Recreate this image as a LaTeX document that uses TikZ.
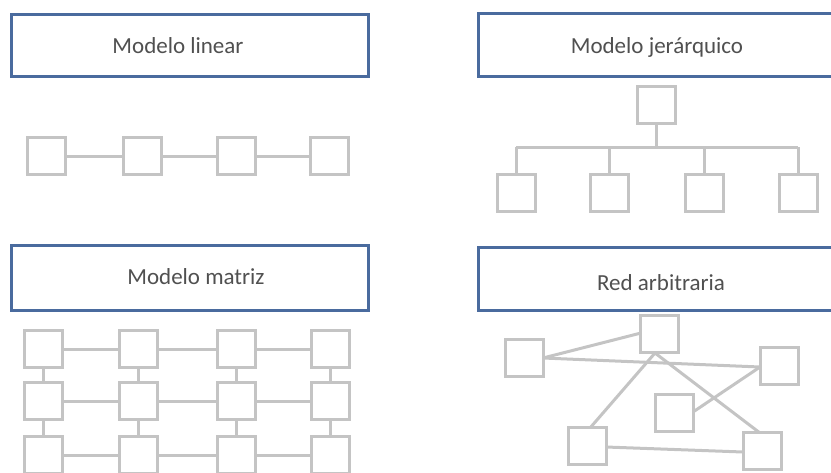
\documentclass[tikz,border=0pt]{standalone}
\usepackage{fontspec}
\setmainfont{Carlito}
\begin{document}
\begin{tikzpicture}[x=1pt,y=-1pt,
  titlebox/.style={draw=boxblue, line width=3pt, fill=white, inner sep=0pt, anchor=north west},
  titletext/.style={text=textgray, font=\fontsize{23}{26}\selectfont, inner sep=0pt, anchor=base},
  sq/.style={draw=sqgray, line width=3pt, fill=white, minimum width=38pt, minimum height=37pt, inner sep=0pt},
  link/.style={draw=sqgray, line width=3pt}]
\definecolor{boxblue}{HTML}{4A6B9E}
\definecolor{sqgray}{HTML}{C4C4C4}
\definecolor{textgray}{HTML}{505050}
\useasboundingbox (0,0) rectangle (831,472);
\clip (0,0) rectangle (831,472);

% ---- title boxes ----
\node[titlebox, minimum width=357pt, minimum height=62pt] (t1) at (10,13) {};
\node[titletext] (l1) at (178,53) {Modelo linear};
\node[titlebox, minimum width=360pt, minimum height=63pt] (t2) at (477,12) {};
\node[titletext] (l2) at (657,53) {Modelo jerárquico};
\node[titlebox, minimum width=357pt, minimum height=65pt] (t3) at (10,244) {};
\node[titletext] (l3) at (196,284) {Modelo matriz};
\node[titlebox, minimum width=360pt, minimum height=63pt] (t4) at (477,246) {};
\node[titletext] (l4) at (661,290) {Red arbitraria};

% ---- linear model ----
\node[sq] (a1) at (46,156) {};
\node[sq] (a2) at (142,156) {};
\node[sq] (a3) at (236,156) {};
\node[sq] (a4) at (329,156) {};
\draw[link] (a1) -- (a2);
\draw[link] (a2) -- (a3);
\draw[link] (a3) -- (a4);

% ---- hierarchical model ----
\node[sq] (h0) at (656,105) {};
\node[sq] (h1) at (516,193) {};
\node[sq] (h2) at (609,193) {};
\node[sq] (h3) at (704,193) {};
\node[sq] (h4) at (798,193) {};
\coordinate (hj) at (656,147);
\coordinate (hl) at (516,147);
\coordinate (hr) at (798,147);
\draw[link] (h0) -- (hj);
\draw[link] (hl) -- (hr);
\draw[link] (hl) -- (h1);
\draw[link] (h2.north |- hj) -- (h2);
\draw[link] (h3.north |- hj) -- (h3);
\draw[link] (hr) -- (h4);

% ---- matrix model ----
\foreach \c/\x in {1/43,2/138,3/236,4/330}{
  \foreach \r/\y in {1/349,2/401,3/455}{
    \node[sq] (m\r\c) at (\x,\y) {};
  }
}
\foreach \r in {1,2,3}{
  \draw[link] (m\r1) -- (m\r2);
  \draw[link] (m\r2) -- (m\r3);
  \draw[link] (m\r3) -- (m\r4);
}
\foreach \c in {1,2,3,4}{
  \draw[link] (m1\c) -- (m2\c);
  \draw[link] (m2\c) -- (m3\c);
}

% ---- arbitrary network ----
\coordinate (pa) at (543,358);
\coordinate (pb) at (655,353);
\coordinate (pc) at (760,367);
\draw[link] (pa) -- (641,333);
\draw[link] (pa) -- (pc);
\draw[link] (pb) -- (590,428);
\draw[link] (pb) -- (760,433);
\draw[link] (693,412) -- (pc);
\draw[link] (606,447) -- (743,452);
\node[sq] (nA) at (524,358) {};
\node[sq] (nB) at (659,334) {};
\node[sq] (nC) at (779,366) {};
\node[sq] (nD) at (674,413) {};
\node[sq] (nE) at (587,446) {};
\node[sq] (nF) at (762,451) {};
\end{tikzpicture}
\end{document}
